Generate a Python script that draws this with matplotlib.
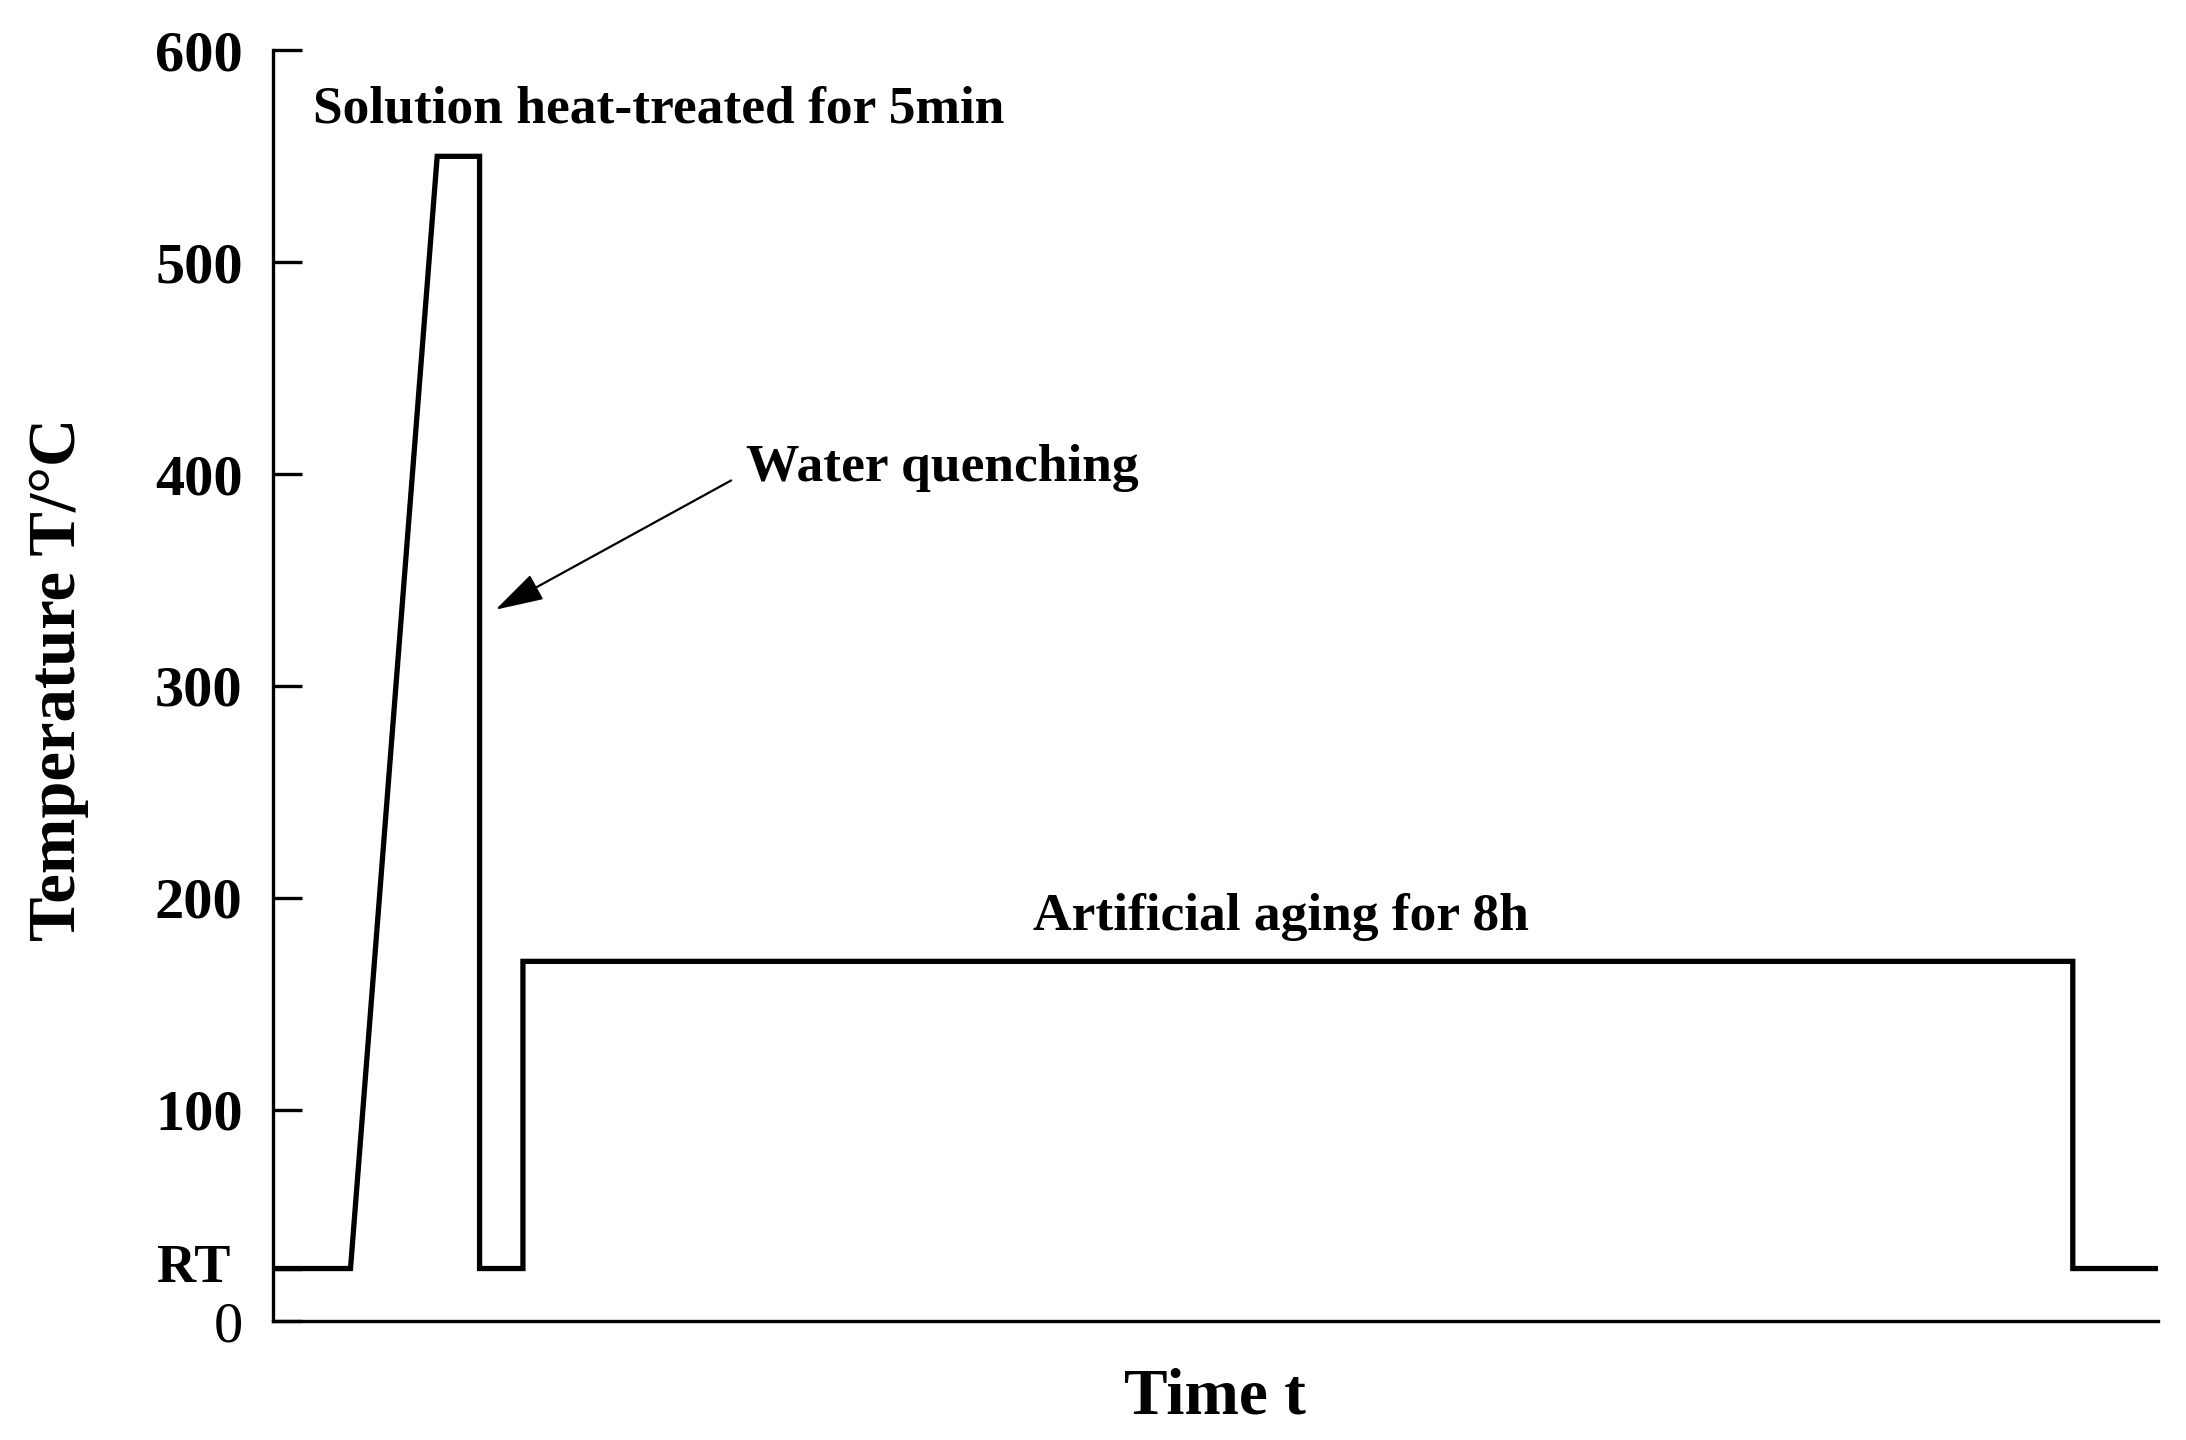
import matplotlib
matplotlib.use("Agg")
import matplotlib.pyplot as plt

# heat treatment path (time in arbitrary units, temperature in degC)
time_pts = [0, 4.1, 8.7, 10.95, 10.95, 13.25, 13.25, 95.5, 95.5, 100]
temp_pts = [25, 25, 550, 550, 25, 25, 170, 170, 25, 25]

ytick_vals = [0, 25, 100, 200, 300, 400, 500, 600]
ytick_labels = ['0', 'RT ', '100', '200', '300', '400', '500', '600']

plt.rcParams['font.family'] = ['Liberation Serif', 'DejaVu Serif']
plt.rcParams['font.weight'] = 'bold'


def main():
    fig = plt.figure(figsize=(21.86, 14.40), dpi=100)
    ax = fig.add_axes([0.125, 0.0823, 0.862, 0.8827])

    ax.plot(time_pts, temp_pts, color='black', lw=3.8, solid_joinstyle='miter')

    ax.set_xlim(0, 100)
    ax.set_ylim(0, 600)
    ax.spines['top'].set_visible(False)
    ax.spines['right'].set_visible(False)
    ax.spines['left'].set_linewidth(2.4)
    ax.spines['bottom'].set_linewidth(2.4)

    ax.set_xticks([])
    ax.set_yticks(ytick_vals)
    ax.set_yticklabels(ytick_labels)
    ax.tick_params(axis='y', direction='in', length=21, width=2.4, pad=22,
                   labelsize=42)
    for lab in ax.get_yticklabels():
        if lab.get_text() == '0':
            lab.set_fontweight('normal')
        if lab.get_text().strip() == 'RT':
            lab.set_fontsize(39)
            lab.set_va('center')

    ax.set_ylabel('Temperature T/°C', fontsize=48, fontweight='bold')
    ax.yaxis.set_label_coords(-0.098, 0.505)
    ax.set_xlabel('Time t', fontsize=47, fontweight='bold')
    ax.xaxis.set_label_coords(0.5, -0.06)
    ax.xaxis.label.set_va('center')

    ax.text(2.1, 572, 'Solution heat-treated for 5min', fontsize=38.5,
            fontweight='bold', va='center', ha='left')
    ax.text(25.1, 403, 'Water quenching', fontsize=38.5,
            fontweight='bold', va='center', ha='left')
    ax.text(53.5, 191, 'Artificial aging for 8h', fontsize=38.5,
            fontweight='bold', va='center', ha='center')

    ax.annotate('', xy=(11.8, 336), xytext=(24.3, 397),
                arrowprops=dict(arrowstyle='-|>,head_length=1.2,head_width=0.35',
                                color='black', lw=1.6, mutation_scale=25,
                                shrinkA=0, shrinkB=0))

    fig.savefig('out.png', dpi=100, facecolor='white')


if __name__ == '__main__':
    main()
